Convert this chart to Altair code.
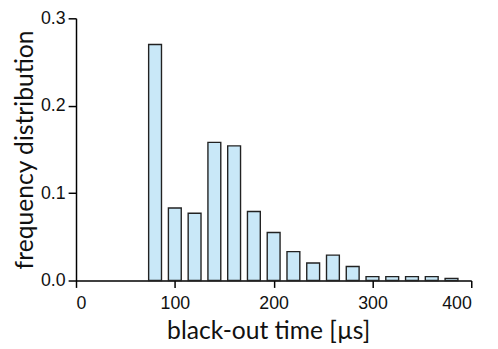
import altair as alt
import pandas as pd

bin_centers = [80, 100, 120, 140, 160, 180, 200, 220, 240, 260, 280, 300, 320, 340, 360, 380]
frequency = [0.270, 0.083, 0.077, 0.158, 0.154, 0.079, 0.055, 0.033, 0.020, 0.029, 0.016, 0.0045, 0.0045, 0.0045, 0.0045, 0.0025]
bar_half_width = 6.5  # style: half the bar width in data units

df = pd.DataFrame({"t": bin_centers, "f": frequency})

chart = alt.Chart(df).transform_calculate(
    t0=f"datum.t - {bar_half_width}", t1=f"datum.t + {bar_half_width}"
).mark_rect(
    fill="#c9e8f8", stroke="#222222", strokeWidth=1.4
).encode(
    x=alt.X("t0:Q", scale=alt.Scale(domain=[0, 400], nice=False, zero=False, padding=0),
            axis=alt.Axis(values=[0, 100, 200, 300, 400], title="black-out time [µs]",
                          tickSize=7, labelPadding=7, titlePadding=7, titleX=195)),
    x2="t1:Q",
    y=alt.Y("f:Q", scale=alt.Scale(domain=[0, 0.3], nice=False, padding=0),
            axis=alt.Axis(values=[0.0, 0.1, 0.2, 0.3], format=".1f", title="frequency distribution",
                          tickSize=8, labelPadding=3, titlePadding=3)),
    y2=alt.datum(0),
).properties(
    width=401, height=266,
    autosize=alt.AutoSizeParams(type="none"),
    padding={"left": 69, "top": 8, "right": 19, "bottom": 67},
).configure_view(stroke=None).configure_scale(continuousPadding=0).configure_axis(
    grid=False,
    domainColor="#000000", domainWidth=1.5,
    tickColor="#000000", tickWidth=1.5,
    labelFont="Liberation Sans", labelFontSize=18, labelColor="#111111",
    titleFont="Lato", titleFontSize=25, titleFontWeight="normal", titleColor="#111111",
)

chart.save("out.html", embed_options={"renderer": "svg", "actions": False})
